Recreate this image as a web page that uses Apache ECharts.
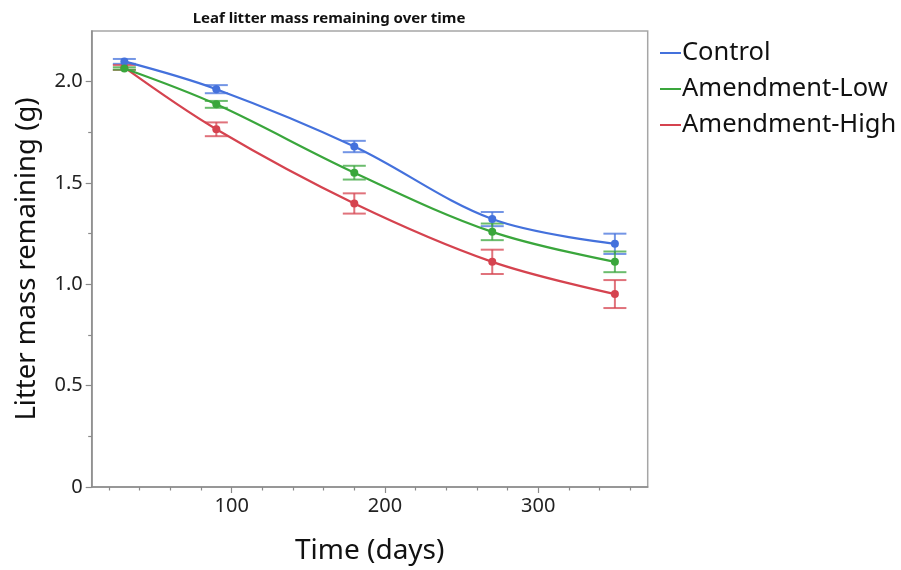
<!DOCTYPE html>
<html>
<head>
<meta charset="utf-8">
<script src="https://cdn.jsdelivr.net/npm/echarts@6/dist/echarts.min.js"></script>
<style>
html,body{margin:0;padding:0;background:#fff;}
#chart{width:901px;height:570px;}
</style>
</head>
<body>
<div id="chart"></div>
<script>
// ---- data ----
const days = [30, 90, 180, 270, 350];
const seriesNames = ['Control', 'Amendment-Low', 'Amendment-High'];
const control = [2.100, 1.963, 1.680, 1.322, 1.200];
const controlErr = [0.012, 0.020, 0.028, 0.035, 0.050];
const amendLow = [2.065, 1.888, 1.551, 1.259, 1.111];
const amendLowErr = [0.006, 0.017, 0.034, 0.041, 0.051];
const amendHigh = [2.070, 1.765, 1.399, 1.111, 0.952];
const amendHighErr = [0.012, 0.034, 0.050, 0.060, 0.069];
const xMajorTicks = [100, 200, 300];
const xMinorTicks = [20, 40, 60, 80, 120, 140, 160, 180, 220, 240, 260, 280, 320, 340, 360];
const yMajorTicks = [0, 0.5, 1.0, 1.5, 2.0];
const yMinorTicks = [0.25, 0.75, 1.25, 1.75];

const colors = {
  'Control': '#4471DC',
  'Amendment-Low': '#3AA63C',
  'Amendment-High': '#D5434F'
};
const FONT = 'Noto Sans';

function pts(vals) { return days.map((d, i) => [d, vals[i]]); }
function errData(vals, errs) { return days.map((d, i) => [d, vals[i] - errs[i], vals[i] + errs[i]]); }

function errSeries(name, vals, errs) {
  return {
    name: name,
    type: 'custom',
    xAxisIndex: 0, yAxisIndex: 0,
    data: errData(vals, errs),
    z: 2,
    silent: true,
    renderItem: function (params, api) {
      const x = api.value(0);
      const lo = api.coord([x, api.value(1)]);
      const hi = api.coord([x, api.value(2)]);
      const hw = 11.5;
      const style = { stroke: colors[name], lineWidth: 2, opacity: 0.75 };
      return {
        type: 'group',
        children: [
          { type: 'line', shape: { x1: lo[0], y1: lo[1], x2: hi[0], y2: hi[1] }, style: style },
          { type: 'line', shape: { x1: lo[0] - hw, y1: lo[1], x2: lo[0] + hw, y2: lo[1] }, style: style },
          { type: 'line', shape: { x1: hi[0] - hw, y1: hi[1], x2: hi[0] + hw, y2: hi[1] }, style: style }
        ]
      };
    }
  };
}
function lineSeries(name, vals, z) {
  return {
    name: name,
    type: 'line',
    xAxisIndex: 0, yAxisIndex: 0,
    data: pts(vals),
    smooth: 0.35,
    symbol: 'circle',
    symbolSize: 8,
    z: z,
    lineStyle: { color: colors[name], width: 2.2 },
    itemStyle: { color: colors[name] },
    emphasis: { disabled: true }
  };
}

const xMin = 8.7, xMax = 371.4, yMin = 0, yMax = 2.25;
const axisGray = '#8a8a8a';

const chart = echarts.init(document.getElementById('chart'), null, { renderer: 'canvas' });
chart.setOption({
  animation: false,
  backgroundColor: '#fff',
  title: {
    text: 'Leaf litter mass remaining over time',
    left: 324, top: 6, textAlign: 'center',
    textStyle: { fontFamily: FONT, fontSize: 15, fontWeight: 'bold', color: '#111' }
  },
  legend: {
    orient: 'vertical',
    left: 655, top: 35,
    itemWidth: 21, itemHeight: 2, itemGap: 10,
    icon: 'rect',
    data: seriesNames.map(n => ({ name: n, itemStyle: { color: colors[n] } })),
    textStyle: { fontFamily: FONT, fontSize: 25.5, color: '#111', padding: [0, 0, 0, -4] }
  },
  grid: {
    left: 91.7, top: 31, right: 253.3, bottom: 82.7,
    show: true, borderColor: '#a6a6a6', borderWidth: 1.5, backgroundColor: 'transparent'
  },
  xAxis: [
    {
      type: 'value', min: xMin, max: xMax, position: 'bottom',
      name: 'Time (days)', nameLocation: 'middle', nameGap: 50,
      nameTextStyle: { fontFamily: FONT, fontSize: 28, color: '#111' },
      axisLine: { show: true, lineStyle: { color: axisGray, width: 1.5 } },
      axisTick: { show: true, customValues: xMajorTicks, length: 6, lineStyle: { color: axisGray, width: 1.2 } },
      axisLabel: { customValues: xMajorTicks, margin: 9, fontFamily: FONT, fontSize: 20, color: '#222' },
      splitLine: { show: false }
    },
    {
      type: 'value', min: xMin, max: xMax, position: 'bottom', offset: 0,
      axisLine: { show: false },
      axisTick: { show: true, customValues: xMinorTicks, length: 3.5, lineStyle: { color: axisGray, width: 1.2 } },
      axisLabel: { show: false },
      splitLine: { show: false }
    }
  ],
  yAxis: [
    {
      type: 'value', min: yMin, max: yMax, position: 'left',
      name: 'Litter mass remaining (g)', nameLocation: 'middle', nameGap: 51, nameRotate: 90,
      nameTextStyle: { fontFamily: FONT, fontSize: 27.5, color: '#111' },
      axisLine: { show: true, lineStyle: { color: axisGray, width: 1.5 } },
      axisTick: { show: true, customValues: yMajorTicks, length: 6, lineStyle: { color: axisGray, width: 1.2 } },
      axisLabel: {
        customValues: yMajorTicks, margin: 9, fontFamily: FONT, fontSize: 20, color: '#222',
        formatter: v => (v === 0 ? '0' : v.toFixed(1))
      },
      splitLine: { show: false }
    },
    {
      type: 'value', min: yMin, max: yMax, position: 'left', offset: 0,
      axisLine: { show: false },
      axisTick: { show: true, customValues: yMinorTicks, length: 3.5, lineStyle: { color: axisGray, width: 1.2 } },
      axisLabel: { show: false },
      splitLine: { show: false }
    }
  ],
  series: [
    errSeries('Control', control, controlErr),
    errSeries('Amendment-High', amendHigh, amendHighErr),
    errSeries('Amendment-Low', amendLow, amendLowErr),
    lineSeries('Control', control, 5),
    lineSeries('Amendment-High', amendHigh, 4),
    lineSeries('Amendment-Low', amendLow, 6)
  ]
});
</script>
</body>
</html>
